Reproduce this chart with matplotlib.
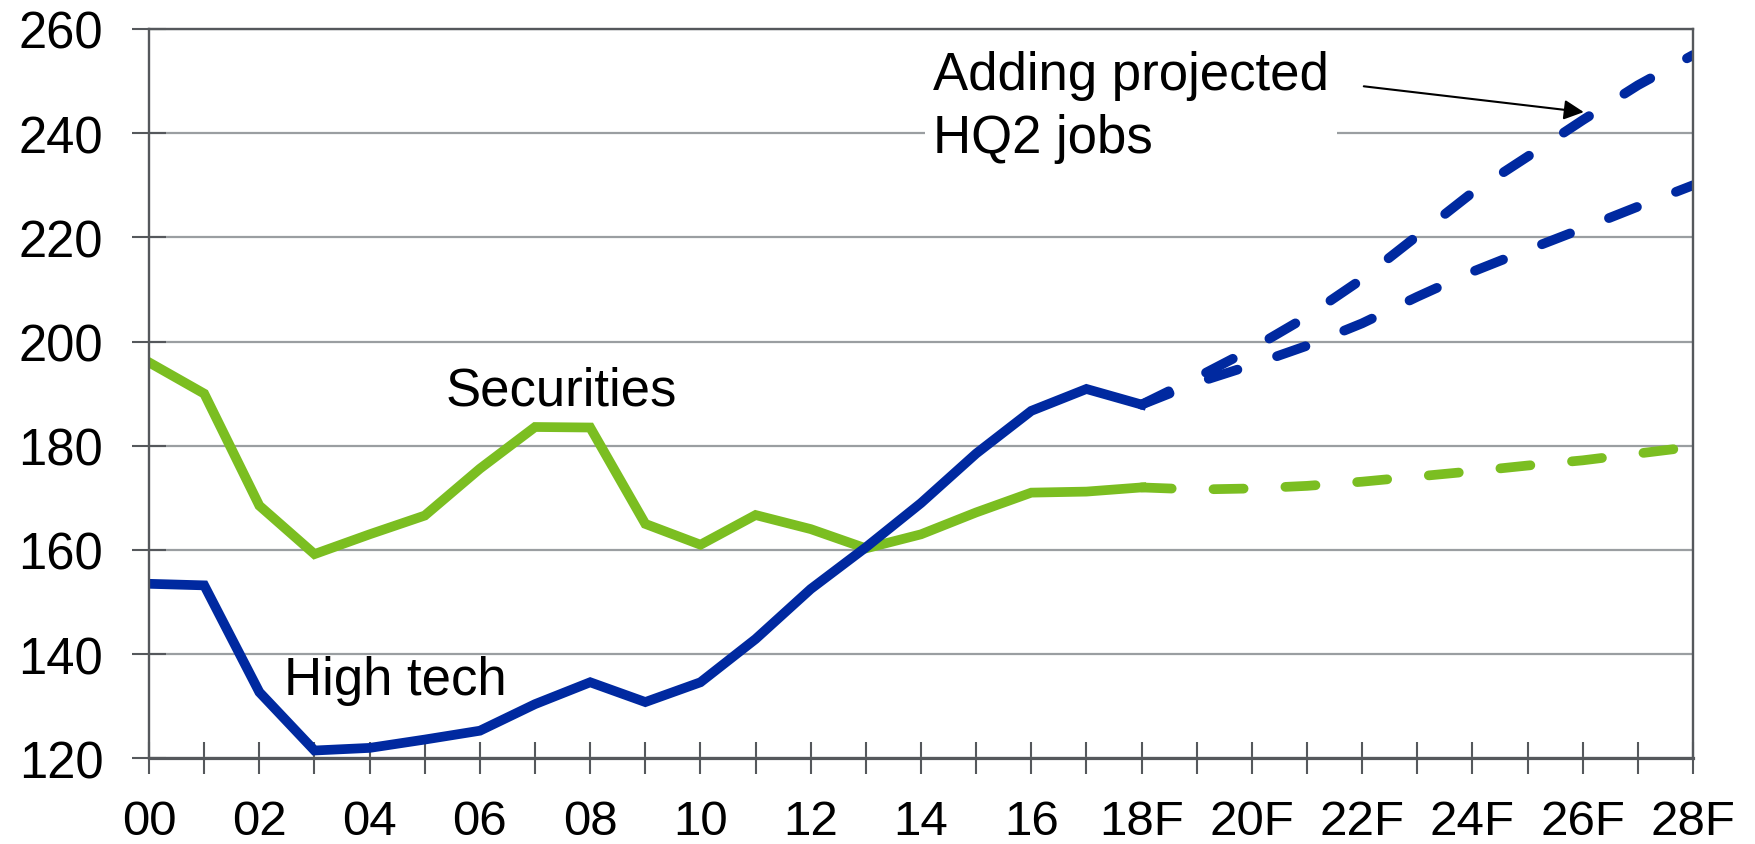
import matplotlib.pyplot as plt

plt.rcParams['font.family'] = ['Liberation Sans', 'DejaVu Sans']

# index values, 2000-2018 actual, 2018-2028 forecast
hist_years = list(range(0, 19))
fc_years = list(range(18, 29))

high_tech = [153.5, 153.2, 132.7, 121.5, 122.0, 123.6, 125.3, 130.4, 134.6, 130.8,
             134.6, 142.9, 152.5, 160.5, 169.0, 178.5, 186.7, 190.9, 187.9]
securities = [196.0, 190.0, 168.5, 159.2, 163.0, 166.6, 175.6, 183.6, 183.5, 165.0,
              161.0, 166.7, 164.0, 160.3, 163.0, 167.2, 171.0, 171.2, 172.0]

high_tech_fc = [187.9, 192.1, 195.5, 199.2, 203.5, 208.6, 213.4, 217.6, 221.7, 225.9, 230.0]
high_tech_hq2 = [187.9, 193.1, 198.6, 204.8, 212.0, 220.3, 228.6, 235.5, 242.5, 249.2, 255.0]
securities_fc = [172.0, 171.6, 171.8, 172.3, 173.1, 174.1, 175.1, 176.2, 177.2, 178.5, 179.8]

tick_years = list(range(0, 29))
tick_labels = ['00', '', '02', '', '04', '', '06', '', '08', '', '10', '', '12', '', '14', '',
               '16', '', '18F', '', '20F', '', '22F', '', '24F', '', '26F', '', '28F']
y_ticks = [120, 140, 160, 180, 200, 220, 240, 260]

blue = '#0029A0'
green = '#7BBE21'
axis_gray = '#55585C'
grid_gray = '#9A9EA1'

fig = plt.figure(figsize=(17.56, 8.45), dpi=100)
ax = fig.add_axes([0.0849, 0.1014, 0.8792, 0.8631])

lw = 7.0
dash = (0, (3.1, 4.3))

ax.plot(hist_years, securities, color=green, lw=lw, solid_joinstyle='miter')
ax.plot(hist_years, high_tech, color=blue, lw=lw, solid_joinstyle='miter')
ax.plot(fc_years, securities_fc, color=green, lw=lw, linestyle=dash, dash_capstyle='round')
ax.plot(fc_years, high_tech_fc, color=blue, lw=lw, linestyle=dash, dash_capstyle='round')
ax.plot(fc_years, high_tech_hq2, color=blue, lw=lw, linestyle=dash, dash_capstyle='round')

ax.set_xlim(0, 28)
ax.set_ylim(120, 260)
ax.set_xticks(tick_years)
ax.set_xticklabels(tick_labels)
ax.set_yticks(y_ticks)

ax.grid(axis='y', color=grid_gray, lw=1.6)
ax.set_axisbelow(True)

for side in ['left', 'right', 'top']:
    ax.spines[side].set_color(axis_gray)
    ax.spines[side].set_linewidth(1.7)
ax.spines['bottom'].set_color(axis_gray)
ax.spines['bottom'].set_linewidth(2.3)

ax.tick_params(axis='x', direction='inout', length=23, width=1.5, color=axis_gray,
               labelsize=35.5, pad=18)
ax.tick_params(axis='y', direction='inout', length=24, width=1.5, color=axis_gray,
               labelsize=36.5, pad=21)

ax.text(5.38, 187.9, 'Securities', fontsize=38, ha='left', va='baseline')
ax.text(2.45, 132.4, 'High tech', fontsize=38, ha='left', va='baseline')
# baseline of the last line
ax.text(14.22, 236.4, 'Adding projected\nHQ2 jobs', fontsize=38, ha='left', va='baseline',
        linespacing=1.32, bbox=dict(boxstyle='square,pad=0.15', facecolor='white', edgecolor='none'))

ax.annotate('', xy=(26.02, 244.05), xytext=(22.03, 249.0),
            arrowprops=dict(arrowstyle='-|>', color='black', lw=1.5, mutation_scale=30,
                            shrinkA=0, shrinkB=0))

fig.savefig('out.png', dpi=100)
